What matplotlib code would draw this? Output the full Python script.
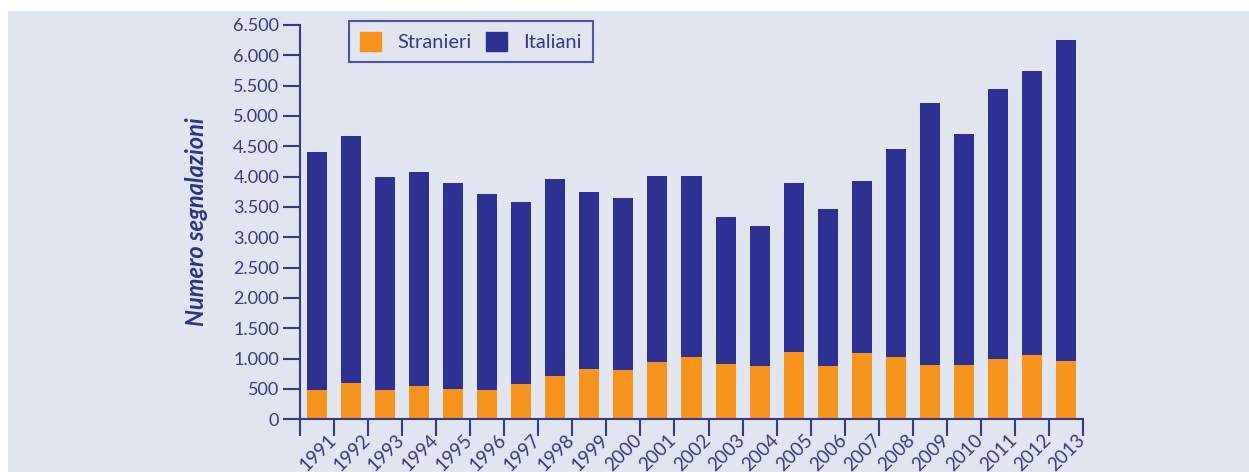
import matplotlib
matplotlib.use("Agg")
import matplotlib.pyplot as plt
import matplotlib.patches as mpatches
import matplotlib.transforms as mtransforms
import numpy as np

# data
anni = [str(y) for y in range(1991, 2014)]
stranieri = [483, 599, 483, 549, 500, 483, 582, 714, 830, 813,
             945, 1027, 912, 879, 1110, 879, 1093, 1027, 896, 896,
             994, 1060, 961]
totale = [4401, 4670, 3994, 4077, 3895, 3714, 3582, 3961, 3747, 3648,
          4011, 4011, 3335, 3187, 3895, 3467, 3928, 4456, 5214, 4703,
          5445, 5741, 6252]
italiani = [t - s for t, s in zip(totale, stranieri)]
y_ticks = list(range(0, 6501, 500))

ORANGE = "#f7941d"
BLUE = "#2e3192"
TXT = "#38388c"
BG = "#e1e5f0"

plt.rcParams.update({"font.family": ["Lato", "DejaVu Sans"]})

W, H = 1249, 472
fig = plt.figure(figsize=(W / 100, H / 100), dpi=100)
fig.patch.set_facecolor("white")
fig.patches.append(mpatches.Rectangle((8 / W, 0), 1, 1 - 11 / H,
                                      transform=fig.transFigure,
                                      facecolor=BG, edgecolor="none", zorder=-10))

ax = fig.add_axes([300 / W, 1 - 419.3 / H, (1083 - 300) / W, (419.3 - 25) / H])
ax.set_facecolor("none")

x = np.arange(len(anni))
ax.bar(x, stranieri, width=0.59, color=ORANGE, label="Stranieri", zorder=2)
ax.bar(x, italiani, width=0.59, bottom=stranieri, color=BLUE, label="Italiani", zorder=2)

ax.set_xlim(-0.5, len(anni) - 0.5)
ax.set_ylim(0, 6500)

for s in ["top", "right"]:
    ax.spines[s].set_visible(False)
for s in ["left", "bottom"]:
    ax.spines[s].set_color(TXT)
    ax.spines[s].set_linewidth(1.5)

ax.set_yticks(y_ticks)
ax.set_yticklabels([f"{v:,}".replace(",", ".") for v in y_ticks])
ax.tick_params(axis="y", direction="out", length=12, width=1.5, color=TXT,
               labelcolor=TXT, labelsize=13, pad=3)

# boundary ticks as major, year labels as minor
ax.set_xticks(np.arange(-0.5, len(anni), 1.0))
ax.set_xticklabels([])
ax.set_xticks(x, minor=True)
ax.set_xticklabels(anni, minor=True, rotation=45, ha="right", va="top",
                   rotation_mode="anchor")
ax.tick_params(axis="x", which="major", direction="out", length=12, width=1.5, color=TXT)
ax.tick_params(axis="x", which="minor", length=0, labelcolor=TXT, labelsize=13.5, pad=0)
offset = mtransforms.ScaledTranslation(10 / 100, -12 / 100, fig.dpi_scale_trans)
for lbl in ax.get_xticklabels(minor=True):
    lbl.set_transform(lbl.get_transform() + offset)

fig.text(197 / W, 1 - 222 / H, "Numero segnalazioni", rotation=90, ha="center",
         va="center", fontsize=17, fontweight="bold", fontstyle="italic", color=BLUE)

handles = [mpatches.Patch(color=ORANGE, label="Stranieri"),
           mpatches.Patch(color=BLUE, label="Italiani")]
leg = fig.legend(handles=handles, loc="upper left",
                 bbox_to_anchor=(349 / W, 1 - 21 / H), borderaxespad=0,
                 ncol=2, fontsize=14.5, frameon=True, fancybox=False,
                 handlelength=1.05, handleheight=1.05, handletextpad=0.8,
                 columnspacing=0.7, borderpad=0.55, labelcolor=TXT)
leg.get_frame().set_edgecolor(BLUE)
leg.get_frame().set_linewidth(1.5)
leg.get_frame().set_facecolor("none")

fig.savefig("out.png", dpi=100)
